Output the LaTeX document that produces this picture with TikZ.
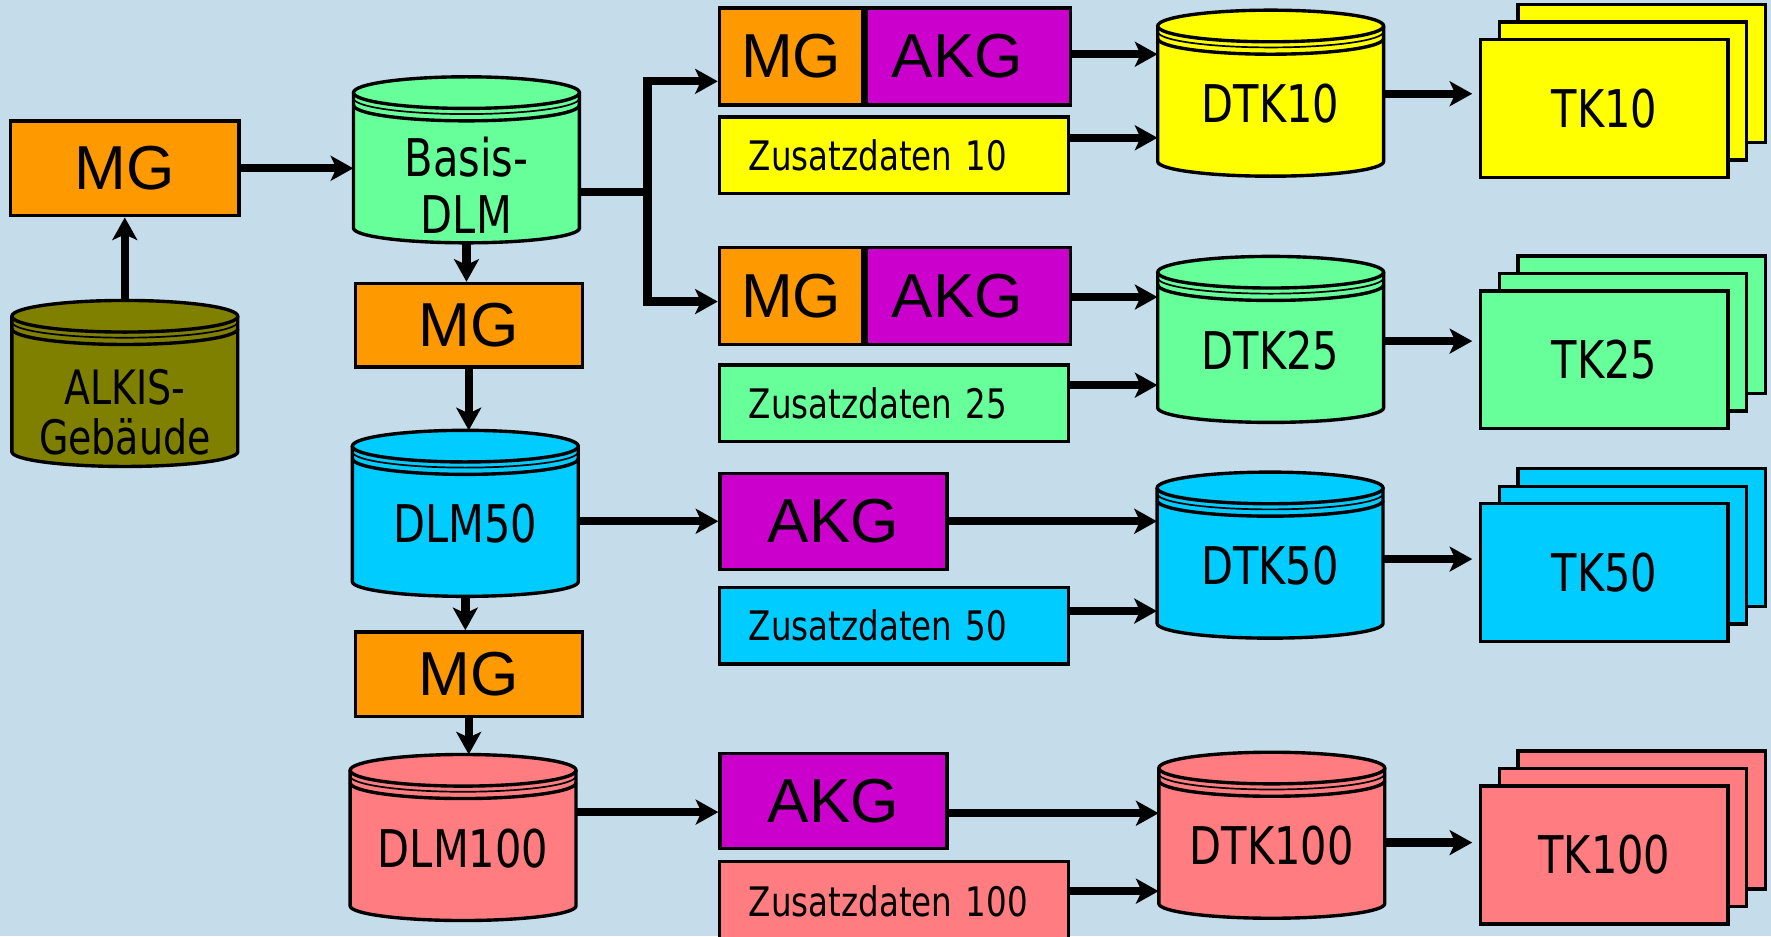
\documentclass[tikz,border=0pt]{standalone}
\usepackage{fontspec}
\setmainfont{Liberation Sans}
\newfontfamily\narrowsans{DejaVu Sans}[FakeStretch=0.8]
\usetikzlibrary{arrows.meta,positioning}

\definecolor{bgblue}{RGB}{197,220,234}
\definecolor{mgorange}{RGB}{255,153,0}
\definecolor{akgpurple}{RGB}{204,0,204}
\definecolor{alkisolive}{RGB}{128,128,0}
\definecolor{k10yellow}{RGB}{255,255,0}
\definecolor{k25green}{RGB}{102,255,153}
\definecolor{k50blue}{RGB}{0,204,255}
\definecolor{k100red}{RGB}{255,124,128}

\newcommand{\bigfont}{\fontsize{55}{60}\selectfont}
\newcommand{\dbfont}{\narrowsans\fontsize{46}{50}\selectfont}
\newcommand{\zusfont}{\narrowsans\fontsize{36}{40}\selectfont}

\tikzset{
  box/.style={draw, line width=3pt, inner sep=0pt},
  mgbox/.style={box, fill=mgorange, font=\bigfont},
  akgbox/.style={box, fill=akgpurple, font=\bigfont},
  zusbox/.style={box, minimum width=309pt, minimum height=68pt, text width=257pt,
    inner xsep=26pt, align=left, font=\zusfont},
  tkbox/.style={box, minimum width=219pt, minimum height=122pt, font=\dbfont},
  cyltext/.style={minimum width=200pt, inner sep=0pt, align=center, font=\dbfont},
  cylline/.style={line width=3pt},
  ringline/.style={line width=1.5pt},
  arr/.style={line width=7.4pt, -{Stealth[length=20pt, width=22pt, inset=5pt]}},
}

% database cylinder: [node options]{name}{centre x}{top y}{colour}{text}
\newcommand{\dbcyl}[6][]{%
  \begin{scope}[shift={(#3,-#4)}]
    \fill[#5] (-100,-14) -- (-100,-134) arc[start angle=180, end angle=360, x radius=100pt, y radius=13pt]
      -- (100,-14) arc[start angle=0, end angle=180, x radius=100pt, y radius=14pt] -- cycle;
    \draw[cylline] (-100,-14) -- (-100,-134) arc[start angle=180, end angle=360, x radius=100pt, y radius=13pt] -- (100,-14);
    \draw[cylline] (0,-14) ellipse[x radius=100pt, y radius=14pt];
    \draw[ringline] (-100,-19) arc[start angle=180, end angle=360, x radius=100pt, y radius=14pt];
    \draw[cylline] (-100,-25) arc[start angle=180, end angle=360, x radius=100pt, y radius=14pt];
    \coordinate (#2-top) at (0,0);
    \coordinate (#2-bot) at (0,-147);
    \node[cyltext, #1] (#2) at (0,-83) {#6};
  \end{scope}}

% map sheets: {name}{centre x}{centre y}{colour}{text}
\newcommand{\tkstack}[5]{%
  \node[tkbox, fill=#4] (#1-c) at (#2+33,-#3+31) {};
  \node[tkbox, fill=#4] (#1-b) at (#2+16.5,-#3+15.5) {};
  \node[tkbox, fill=#4] (#1) at (#2,-#3) {#5};}

\begin{document}
\begin{tikzpicture}[x=1pt, y=1pt]
    \useasboundingbox (0,0) rectangle (1568,-829);
    \fill[bgblue] (0,0) rectangle (1568,-829);

    % Source data and DLM chain
    \dbcyl[yshift=-16pt, font=\narrowsans\fontsize{42}{44}\selectfont]{alkis}{110.5}{266}{alkisolive}{ALKIS-\\Geb\"aude}
    \node[mgbox, minimum width=202pt, minimum height=84pt] (mg1) at (110.5,-149) {MG};
    \dbcyl[yshift=-13pt]{basis}{413}{68}{k25green}{Basis-\\DLM}
    \node[mgbox, minimum width=201pt, minimum height=74pt] (mg2) at (415,-288) {MG};
    \dbcyl{dlm50}{412}{381}{k50blue}{DLM50}
    \node[mgbox, minimum width=201pt, minimum height=75pt] (mg3) at (415,-597) {MG};
    \dbcyl{dlm100}{410}{668}{k100red}{DLM100}

    % 1:10 000
    \node[mgbox, minimum width=127pt, minimum height=86pt] (mg10) at (700.5,-50) {MG};
    \node[akgbox, minimum width=181pt, minimum height=86pt, right=0pt of mg10] (akg10) {AKG\hspace*{20pt}};
    \node[zusbox, fill=k10yellow] (zus10) at (791.5,-137.5) {Zusatzdaten 10};
    \dbcyl{dtk10}{1125}{9}{k10yellow}{DTK10}
    \tkstack{tk10}{1420.5}{96}{k10yellow}{TK10}

    % 1:25 000
    \node[mgbox, minimum width=127pt, minimum height=86pt] (mg25) at (700.5,-262) {MG};
    \node[akgbox, minimum width=181pt, minimum height=86pt, right=0pt of mg25] (akg25) {AKG\hspace*{20pt}};
    \node[zusbox, fill=k25green] (zus25) at (791.5,-357) {Zusatzdaten 25};
    \dbcyl{dtk25}{1125}{227}{k25green}{DTK25}
    \tkstack{tk25}{1420.5}{318.5}{k25green}{TK25}

    % 1:50 000
    \node[akgbox, minimum width=201pt, minimum height=85pt] (akg50) at (738,-461.5) {AKG};
    \node[zusbox, fill=k50blue] (zus50) at (791.5,-554) {Zusatzdaten 50};
    \dbcyl{dtk50}{1124.5}{418}{k50blue}{DTK50}
    \tkstack{tk50}{1420.5}{507}{k50blue}{TK50}

    % 1:100 000
    \node[akgbox, minimum width=201pt, minimum height=84pt] (akg100) at (738,-709) {AKG};
    \node[zusbox, fill=k100red, minimum height=70pt] (zus100) at (791.5,-798) {Zusatzdaten 100};
    \dbcyl{dtk100}{1126}{666}{k100red}{DTK100}
    \tkstack{tk100}{1420.5}{757}{k100red}{TK100}

    % Arrows, left part
    \draw[arr] (alkis-top) -- (mg1);
    \draw[arr] (mg1.east) -- (mg1.east -| basis.west);
    \draw[arr] (basis-bot) -- (basis-bot |- mg2.north);
    \draw[arr] (mg2) -- (mg2 |- dlm50-top);
    \draw[arr] (dlm50-bot) -- (dlm50-bot |- mg3.north);
    \draw[arr] (mg3) -- (mg3 |- dlm100-top);
    \draw[arr] ([yshift=-6pt]basis.east) -- ++(60,0) |- ([yshift=-22pt]mg10.west);
    \draw[arr] ([yshift=-6pt]basis.east) -- ++(60,0) |- ([yshift=-5pt]mg25.west);
    \draw[arr] (akg50 -| dlm50.east) -- (akg50.west);
    \draw[arr] ([yshift=-10pt]akg100.west -| dlm100.east) -- ([yshift=-10pt]akg100.west);

    % Arrows into DTK and TK
    \draw[arr] ([yshift=2pt]akg10.east) -- ([yshift=2pt]akg10.east -| dtk10.west);
    \draw[arr] ([yshift=15.5pt]zus10.east) -- ([yshift=15.5pt]zus10.east -| dtk10.west);
    \draw[arr, shorten >=6pt] ([yshift=9pt]dtk10.east) -- ([yshift=9pt]dtk10.east -| tk10.west);

    \draw[arr] ([yshift=-1pt]akg25.east) -- ([yshift=-1pt]akg25.east -| dtk25.west);
    \draw[arr] ([yshift=16pt]zus25.east) -- ([yshift=16pt]zus25.east -| dtk25.west);
    \draw[arr, shorten >=6pt] ([yshift=8pt]dtk25.east) -- ([yshift=8pt]dtk25.east -| tk25.west);

    \draw[arr] (akg50.east) -- (akg50.east -| dtk50.west);
    \draw[arr] ([yshift=13pt]zus50.east) -- ([yshift=13pt]zus50.east -| dtk50.west);
    \draw[arr, shorten >=6pt] ([yshift=6pt]dtk50.east) -- ([yshift=6pt]dtk50.east -| tk50.west);

    \draw[arr] ([yshift=-11pt]akg100.east) -- ([yshift=-11pt]akg100.east -| dtk100.west);
    \draw[arr] ([yshift=9pt]zus100.east) -- ([yshift=9pt]zus100.east -| dtk100.west);
    \draw[arr, shorten >=6pt] ([yshift=3pt]dtk100.east) -- ([yshift=3pt]dtk100.east -| tk100.west);
\end{tikzpicture}
\end{document}
